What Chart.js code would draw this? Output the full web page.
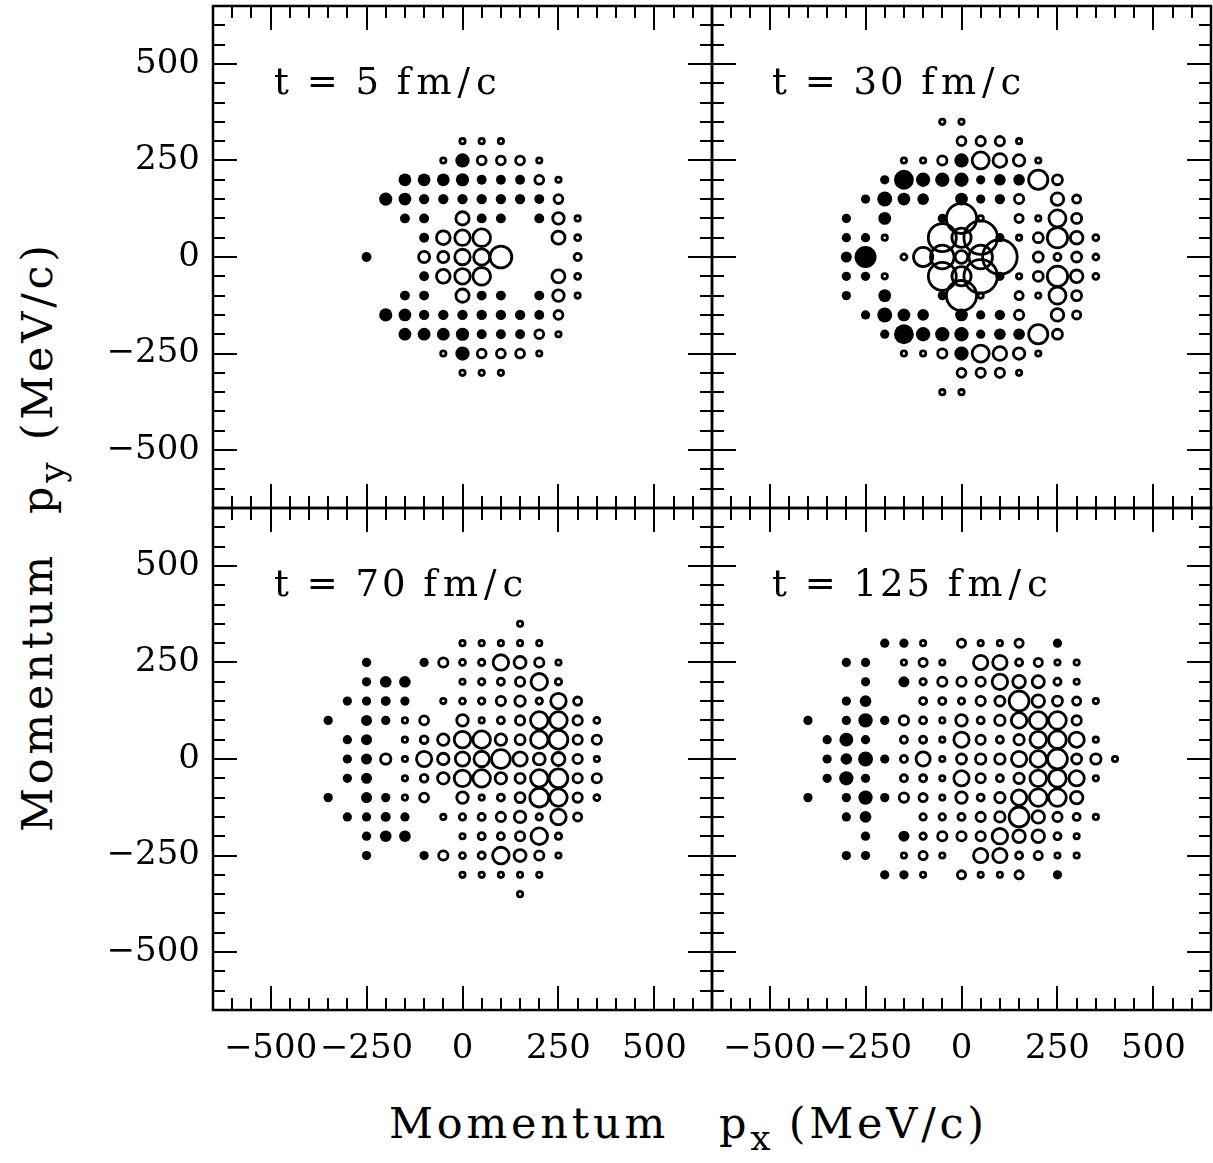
<!DOCTYPE html>
<html>
<head>
<meta charset="utf-8">
<script src="https://cdn.jsdelivr.net/npm/chart.js@4.4.0/dist/chart.umd.min.js"></script>
<style>
body { margin: 0; background: #fff; }
#wrap { position: relative; width: 1213px; height: 1163px; background: #fff; overflow: hidden; font-family: "DejaVu Serif", serif; color: #000; }
canvas { position: absolute; }
.lbl { position: absolute; font-size: 37px; line-height: 37px; white-space: pre; letter-spacing: 3px; }
.lbl .u { letter-spacing: 6px; }
.title { position: absolute; font-size: 43px; line-height: 43px; white-space: pre; letter-spacing: 3.8px; }
.title .sub { font-size: 36px; position: relative; top: 12px; letter-spacing: 0; }
.rot { transform-origin: 0 0; transform: rotate(-90deg); }
</style>
</head>
<body>
<div id="wrap">
  <canvas id="c5" width="614" height="510" style="left:100px;top:0px"></canvas>
  <canvas id="c30" width="503" height="510" style="left:710px;top:0px"></canvas>
  <canvas id="c70" width="614" height="570" style="left:100px;top:506px"></canvas>
  <canvas id="c125" width="503" height="570" style="left:710px;top:506px"></canvas>

  <div class="lbl" style="left:274px;top:63px">t = 5 <span class="u">fm/c</span></div>
  <div class="lbl" style="left:772px;top:63px">t = 30 <span class="u">fm/c</span></div>
  <div class="lbl" style="left:274px;top:565px">t = 70 <span class="u">fm/c</span></div>
  <div class="lbl" style="left:772px;top:565px">t = 125 <span class="u">fm/c</span></div>

  <div class="title" style="left:389px;top:1102px"><span>Momentum</span><span style="margin-left:50px">p<span class="sub">x</span></span><span style="margin-left:18px">(MeV/c)</span></div>
  <div class="title rot" style="left:16px;top:832px"><span>Momentum</span><span style="margin-left:38px">p<span class="sub">y</span></span><span style="margin-left:22px">(MeV/c)</span></div>
</div>

<script>
// momentum grid in MeV/c, 50 MeV/c steps
const axisMin = -650;
const axisMax = 650;
const tickValues = [-500, -250, 0, 250, 500];

// [px, py, w]  w = apparent bubble size
const filled5 = [
  [0,250,6.5],
  [-150,200,5.8],[-100,200,5.8],[-50,200,5.8],[0,200,6],[50,200,4.5],[100,200,4.5],[150,200,4.5],
  [-200,150,6],[-150,150,5.8],[-100,150,4.7],[-50,150,4.7],[0,150,4.7],[50,150,4.7],[100,150,4.7],[150,150,4.7],[200,150,4.5],
  [-150,100,4.5],[-100,100,4.5],[50,100,4.5],[100,100,4.5],[200,100,4.5],
  [-100,50,4.5],
  [-250,0,4.5],
  [-100,-50,4.5],
  [-150,-100,4.5],[-100,-100,4.5],[50,-100,4.5],[100,-100,4.5],[200,-100,4.5],
  [-200,-150,6],[-150,-150,5.8],[-100,-150,4.7],[-50,-150,4.7],[0,-150,4.7],[50,-150,4.7],[100,-150,4.7],[150,-150,4.7],[200,-150,4.5],
  [-150,-200,5.8],[-100,-200,5.8],[-50,-200,5.8],[0,-200,6],[50,-200,4.5],[100,-200,4.5],[150,-200,4.5],
  [0,-250,6.5]
];
const open5 = [
  [0,300,3.7],[50,300,3.7],[100,300,3.7],
  [-50,250,3.7],[50,250,5.3],[100,250,5.3],[150,250,5.3],[200,250,3.7],
  [200,200,5.3],[250,200,3.7],
  [250,150,5.3],
  [0,100,7.3],[250,100,6.5],[300,100,3.7],
  [-50,50,7.5],[0,50,8.3],[50,50,9.3],[250,50,7.2],[300,50,4],
  [-100,0,6.3],[-50,0,6.3],[0,0,8.3],[50,0,8.6],[100,0,11.2],[300,0,4.5],
  [-50,-50,7.5],[0,-50,8.3],[50,-50,9.3],[250,-50,7.2],[300,-50,4],
  [0,-100,7.3],[250,-100,6.5],[300,-100,3.7],
  [250,-150,5.3],
  [200,-200,5.3],[250,-200,3.7],
  [-50,-250,3.7],[50,-250,5.3],[100,-250,5.3],[150,-250,5.3],[200,-250,3.7],
  [0,-300,3.7],[50,-300,3.7],[100,-300,3.7]
];

const filled30 = [
  [0,250,6.5],
  [-200,200,4.2],[-150,200,9],[-100,200,6.5],[-50,200,6.5],[0,200,6.5],[50,200,4.2],[100,200,5.3],[150,200,5.3],
  [-250,150,4.2],[-200,150,6.8],[-150,150,5.8],[-100,150,5.3],[0,150,5.8],[50,150,4.2],[100,150,4.7],
  [-300,100,4.2],[-200,100,5.8],[-50,100,4.2],
  [-300,50,4.2],[-250,50,4.2],[100,50,4.2],
  [-300,0,5],[-250,0,10],
  [-300,-50,4.2],[-250,-50,4.2],[100,-50,4.2],
  [-300,-100,4.2],[-200,-100,5.8],[-50,-100,4.2],
  [-250,-150,4.2],[-200,-150,6.8],[-150,-150,5.8],[-100,-150,5.3],[0,-150,5.8],[50,-150,4.2],[100,-150,4.7],
  [-200,-200,4.2],[-150,-200,9],[-100,-200,6.5],[-50,-200,6.5],[0,-200,6.5],[50,-200,4.2],[100,-200,5.3],[150,-200,5.3],
  [0,-250,6.5]
];
const open30 = [
  [-50,350,3.7],[0,350,3.7],
  [0,300,5.3],[50,300,5.5],[100,300,5.5],[150,300,3.7],
  [-150,250,3.7],[-100,250,3.7],[-50,250,5.5],[50,250,9],[100,250,7.5],[150,250,6.5],[200,250,3.7],
  [200,200,10],[250,200,5.8],
  [150,150,5.5],[250,150,7],[300,150,5],
  [0,100,15],[50,100,3.7],[150,100,5],[200,100,3.7],[250,100,9],[300,100,5.8],
  [-200,50,3.7],[-50,50,14],[0,50,10],[50,50,16.5],[150,50,3.7],[200,50,5.8],[250,50,10.5],[300,50,7],[350,50,4],
  [-150,0,4],[-100,0,10],[-50,0,12],[0,0,7],[50,0,12],[100,0,17],[200,0,5.8],[250,0,4.5],[300,0,5.8],[350,0,4],
  [-200,-50,3.7],[-50,-50,14],[0,-50,10],[50,-50,16.5],[150,-50,3.7],[200,-50,5.8],[250,-50,10.5],[300,-50,7],[350,-50,4],
  [0,-100,15],[50,-100,3.7],[150,-100,5],[200,-100,3.7],[250,-100,9],[300,-100,5.8],
  [150,-150,5.5],[250,-150,7],[300,-150,5],
  [200,-200,10],[250,-200,5.8],
  [-150,-250,3.7],[-100,-250,3.7],[-50,-250,5.5],[50,-250,9],[100,-250,7.5],[150,-250,6.5],[200,-250,3.7],
  [0,-300,5.3],[50,-300,5.5],[100,-300,5.5],[150,-300,3.7],
  [-50,-350,3.7],[0,-350,3.7]
];

const filled70 = [
  [-250,250,4.2],[-100,250,4.2],
  [-250,200,4.2],[-200,200,5.3],[-150,200,5.3],
  [-300,150,4.2],[-250,150,4.2],[-200,150,4.5],[-150,150,4.2],
  [-350,100,4.2],[-250,100,5],[-200,100,4.2],
  [-300,50,4.2],[-250,50,5],
  [-300,0,4.2],[-250,0,5],
  [-300,-50,4.2],[-250,-50,5],
  [-350,-100,4.2],[-250,-100,5],[-200,-100,4.2],
  [-300,-150,4.2],[-250,-150,4.2],[-200,-150,4.5],[-150,-150,4.2],
  [-250,-200,4.2],[-200,-200,5.3],[-150,-200,5.3],
  [-250,-250,4.2],[-100,-250,4.2]
];
const open70 = [
  [150,350,3.7],
  [0,300,3.7],[50,300,3.7],[100,300,3.7],[150,300,3.7],[200,300,3.7],
  [-50,250,5.5],[0,250,4],[50,250,4.2],[100,250,8.3],[150,250,6.7],[200,250,5.5],[250,250,3.7],
  [0,200,3.7],[50,200,4.2],[100,200,4.5],[150,200,5.5],[200,200,8.8],[250,200,4.2],
  [-50,150,3.7],[0,150,4],[50,150,4.2],[100,150,5.5],[150,150,6],[200,150,4.2],[250,150,8.3],[300,150,5],
  [-150,100,3.7],[-100,100,5.3],[0,100,6.5],[50,100,3.7],[100,100,4.5],[150,100,5.5],[200,100,9.2],[250,100,9.2],[300,100,5.5],[350,100,4],
  [-150,50,3.7],[-100,50,4.8],[-50,50,6.5],[0,50,8.8],[50,50,9.2],[100,50,6.5],[150,50,5.8],[200,50,9.2],[250,50,9.8],[300,50,5.5],[350,50,5.5],
  [-200,0,6],[-150,0,3.7],[-100,0,8.2],[-50,0,6.5],[0,0,7.8],[50,0,8.3],[100,0,9.8],[150,0,7.8],[200,0,6.7],[250,0,7.2],[300,0,5.5],[350,0,3.7],
  [-150,-50,3.7],[-100,-50,4.8],[-50,-50,6.5],[0,-50,8.8],[50,-50,9.2],[100,-50,6.5],[150,-50,5.8],[200,-50,9.2],[250,-50,9.8],[300,-50,5.5],[350,-50,5.5],
  [-150,-100,3.7],[-100,-100,5.3],[0,-100,6.5],[50,-100,3.7],[100,-100,4.5],[150,-100,5.8],[200,-100,9.8],[250,-100,9.2],[300,-100,5.5],[350,-100,4],
  [-50,-150,3.7],[0,-150,4.2],[50,-150,4.5],[100,-150,5.5],[150,-150,6.5],[200,-150,4.2],[250,-150,8.3],[300,-150,5],
  [0,-200,3.7],[50,-200,4.5],[100,-200,4.5],[150,-200,5.5],[200,-200,8.8],[250,-200,4.2],
  [-50,-250,5.5],[0,-250,4],[50,-250,4.5],[100,-250,8.8],[150,-250,6.7],[200,-250,5.5],[250,-250,3.7],
  [0,-300,3.7],[50,-300,3.7],[100,-300,3.7],[150,-300,3.7],[200,-300,3.7],
  [150,-350,3.7]
];

const filled125 = [
  [-200,300,4.2],[-150,300,4.2],[250,300,4.2],
  [-300,250,4.2],[-250,250,4.2],
  [-250,200,4.2],[-150,200,5],
  [-300,150,4.2],[-250,150,5.3],
  [-400,100,4.2],[-300,100,4.2],[-250,100,6.5],[-200,100,4.2],
  [-350,50,4.2],[-300,50,6.3],[-250,50,4.2],
  [-350,0,4.2],[-300,0,5.3],[-250,0,6.8],[-200,0,4.2],
  [-350,-50,4.2],[-300,-50,6.5],[-250,-50,4.2],
  [-400,-100,4.2],[-300,-100,4.2],[-250,-100,6.5],[-200,-100,4.2],
  [-300,-150,4.2],[-250,-150,5.3],
  [-250,-200,4.2],[-150,-200,5],
  [-300,-250,4.2],[-250,-250,4.2],
  [-200,-300,4.2],[-150,-300,4.2],[250,-300,4.2]
];
const open125 = [
  [-100,300,3.7],[0,300,5],[50,300,3.7],[100,300,3.7],[150,300,5],
  [-150,250,3.7],[-100,250,5],[-50,250,3.7],[50,250,7.8],[100,250,7.8],[150,250,4.5],[200,250,5],[250,250,3.7],[300,250,3.7],
  [-100,200,4.2],[-50,200,5.5],[0,200,5.5],[50,200,5.5],[100,200,8.3],[150,200,7],[200,200,6.8],[250,200,4.5],[300,200,3.7],
  [-100,150,4.5],[-50,150,4.5],[0,150,4.2],[50,150,5.5],[100,150,5.8],[150,150,10.3],[200,150,7],[250,150,5.8],[300,150,5],[350,150,3.7],
  [-150,100,5.5],[-100,100,4.5],[-50,100,3.7],[0,100,6.5],[50,100,4.5],[100,100,6],[150,100,8.3],[200,100,9.3],[250,100,9.3],[300,100,5.5],
  [-150,50,4.5],[-100,50,4.5],[-50,50,3.7],[0,50,8.2],[50,50,5.5],[100,50,4.5],[150,50,6],[200,50,8.8],[250,50,9.3],[300,50,8.2],[350,50,3.7],
  [-150,0,4.5],[-100,0,7.7],[-50,0,3.7],[0,0,5.8],[50,0,6],[100,0,6],[150,0,8.2],[200,0,8.8],[250,0,10.3],[300,0,5.8],[350,0,6],[400,0,3.7],
  [-150,-50,4.5],[-100,-50,4.5],[-50,-50,3.7],[0,-50,8.2],[50,-50,5.5],[100,-50,4.5],[150,-50,6],[200,-50,8.8],[250,-50,9.3],[300,-50,8.2],[350,-50,3.7],
  [-150,-100,5.5],[-100,-100,5],[-50,-100,3.7],[0,-100,6.5],[50,-100,4.5],[100,-100,6],[150,-100,8.3],[200,-100,9.3],[250,-100,9.3],[300,-100,7],
  [-100,-150,4.2],[-50,-150,4.2],[0,-150,4.5],[50,-150,5.5],[100,-150,6],[150,-150,10.3],[200,-150,7],[250,-150,5.5],[300,-150,4.5],[350,-150,3.7],
  [-100,-200,4.2],[-50,-200,5.5],[0,-200,5.5],[50,-200,5.5],[100,-200,8.3],[150,-200,7],[200,-200,7],[250,-200,4.5],[300,-200,3.7],
  [-150,-250,3.7],[-100,-250,5],[-50,-250,3.7],[50,-250,7.8],[100,-250,7.8],[150,-250,4.5],[200,-250,5],[250,-250,3.7],[300,-250,3.7],
  [-100,-300,3.7],[0,-300,5],[50,-300,3.7],[100,-300,3.7],[150,-300,5]
];

const FONT = 'DejaVu Serif';
const RING = 2.8;
const SIZE_SCALE = 1.1;

function fmt(v) {
  return v < 0 ? '\u2212' + Math.abs(v) : String(v);
}

function bubbles(list, hollow) {
  // hollow circles: radius to the middle of the ring
  return list.map(p => ({x: p[0], y: p[1], r: p[2] * SIZE_SCALE - (hollow ? RING / 2 : 0)}));
}

// inward ticks on all four sides + frame
const frameTicks = {
  id: 'frameTicks',
  afterDatasetsDraw(chart) {
    const ctx = chart.ctx;
    const a = chart.chartArea;
    const sx = chart.scales.x;
    const sy = chart.scales.y;
    ctx.save();
    ctx.strokeStyle = '#000';
    ctx.lineWidth = 2;
    ctx.beginPath();
    for (let v = -600; v <= 600; v += 50) {
      const len = v % 250 === 0 ? 24 : 12;
      const x = Math.round(sx.getPixelForValue(v));
      const y = Math.round(sy.getPixelForValue(v));
      ctx.moveTo(x, a.top); ctx.lineTo(x, a.top + len);
      ctx.moveTo(x, a.bottom); ctx.lineTo(x, a.bottom - len);
      ctx.moveTo(a.left, y); ctx.lineTo(a.left + len, y);
      ctx.moveTo(a.right, y); ctx.lineTo(a.right - len, y);
    }
    ctx.stroke();
    ctx.lineWidth = 2.5;
    ctx.strokeRect(a.left, a.top, a.right - a.left, a.bottom - a.top);
    ctx.restore();
  }
};

function axis(show, isX) {
  return {
    type: 'linear',
    min: axisMin,
    max: axisMax,
    display: show,
    grid: {display: false, drawTicks: false},
    border: {display: false},
    afterBuildTicks: s => { s.ticks = tickValues.map(v => ({value: v})); },
    afterFit: s => {
      if (isX) {
        s.height = show ? 66 : 0;
        s.paddingLeft = 0;
        s.paddingRight = 0;
      } else {
        s.width = show ? 113 : 0;
        s.paddingTop = 0;
        s.paddingBottom = 0;
      }
    },
    ticks: {
      font: {family: FONT, size: 34},
      color: '#000',
      padding: isX ? 19 : 13,
      maxRotation: 0,
      autoSkip: false,
      callback: v => fmt(v)
    }
  };
}

function panel(id, filled, open, left, bottom, pad) {
  new Chart(document.getElementById(id), {
    type: 'bubble',
    data: {
      datasets: [
        {data: bubbles(filled, false), backgroundColor: '#000', borderWidth: 0},
        {data: bubbles(open, true), backgroundColor: 'rgba(0,0,0,0)', borderColor: '#000', borderWidth: RING}
      ]
    },
    options: {
      responsive: false,
      animation: false,
      devicePixelRatio: 1,
      events: [],
      layout: {padding: pad, autoPadding: false},
      plugins: {legend: {display: false}, tooltip: {enabled: false}},
      scales: {x: axis(bottom, true), y: axis(left, false)}
    },
    plugins: [frameTicks]
  });
}

panel('c5', filled5, open5, true, false, {top: 6, right: 2, bottom: 2, left: 0});
panel('c30', filled30, open30, false, false, {top: 6, right: 2, bottom: 2, left: 2});
panel('c70', filled70, open70, true, true, {top: 2, right: 2, bottom: 0, left: 0});
panel('c125', filled125, open125, false, true, {top: 2, right: 2, bottom: 0, left: 2});
</script>
</body>
</html>
